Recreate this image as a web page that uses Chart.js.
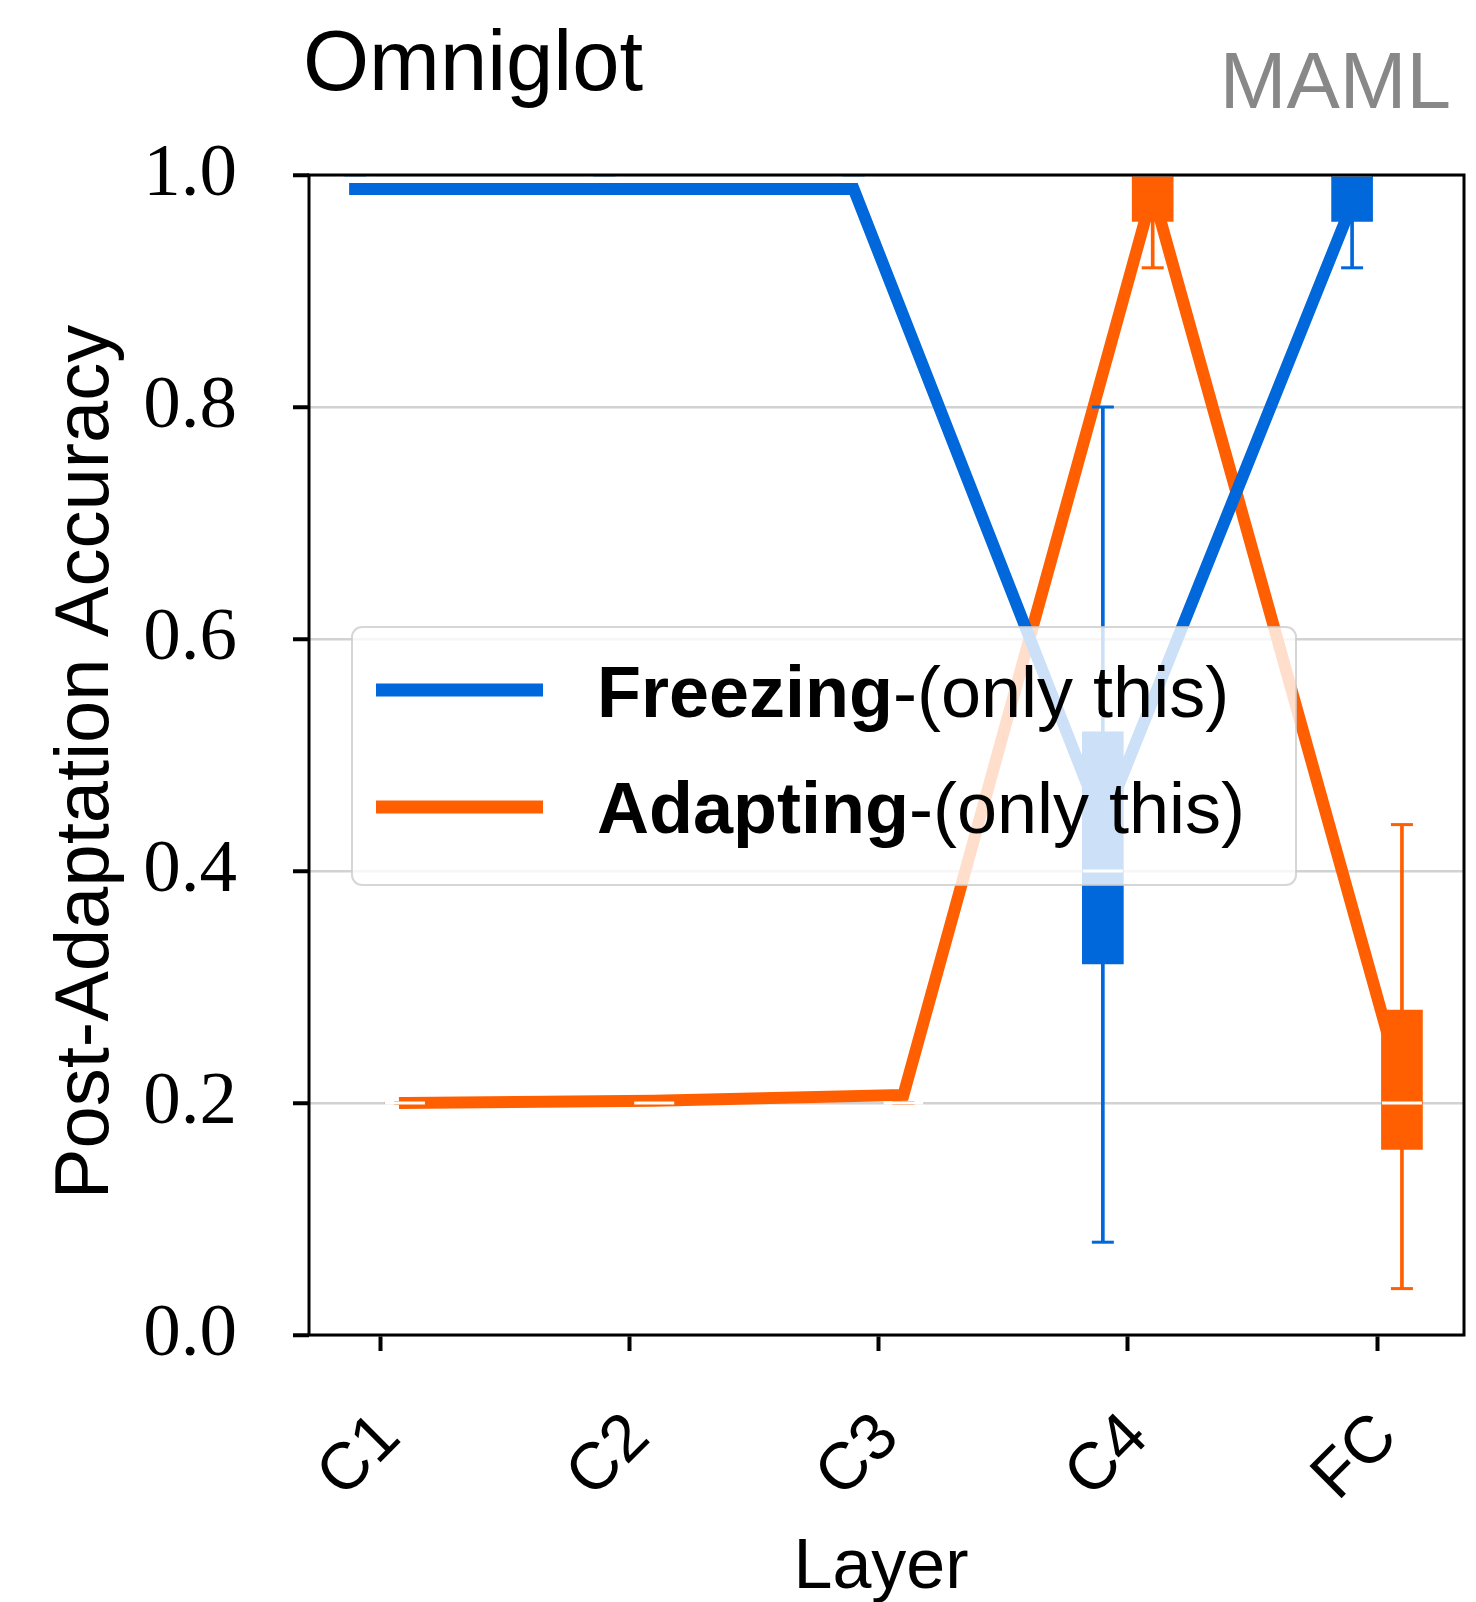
<!DOCTYPE html>
<html lang="en">
<head>
    <meta charset="UTF-8">
    <title>Omniglot MAML</title>
    <script src="https://cdn.jsdelivr.net/npm/chart.js"></script>
    <style>
        body { margin: 0; background: #fff; overflow: hidden; }
        #wrap { width: 1476px; height: 1602px; position: relative; }
    </style>
</head>
<body>
<div id="wrap"><canvas id="grafica"></canvas></div>

<script>
    // categorias (capas)
    const layers = ['C1', 'C2', 'C3', 'C4', 'FC'];
    const yTicks = [0, 0.2, 0.4, 0.6, 0.8, 1.0];

    // Freezing-(only this): media + cajas
    const freezeMean = [0.988, 0.988, 0.988, 0.44, 0.975];
    const freezeLo   = [1.0, 1.0, 1.0, 0.08, 0.92];
    const freezeQ1   = [1.0, 1.0, 1.0, 0.32, 0.96];
    const freezeMed  = [1.0, 1.0, 1.0, 0.40, 1.0];
    const freezeQ3   = [1.0, 1.0, 1.0, 0.52, 1.0];
    const freezeHi   = [1.0, 1.0, 1.0, 0.80, 1.0];

    // Adapting-(only this)
    const adaptMean = [0.200, 0.202, 0.207, 0.985, 0.215];
    const adaptLo   = [0.2, 0.2, 0.2, 0.92, 0.04];
    const adaptQ1   = [0.2, 0.2, 0.2, 0.96, 0.16];
    const adaptMed  = [0.2, 0.2, 0.2, 1.0, 0.20];
    const adaptQ3   = [0.2, 0.2, 0.2, 1.0, 0.28];
    const adaptHi   = [0.2, 0.2, 0.2, 1.0, 0.44];

    const BLUE = '#0068db';
    const ORANGE = '#ff5f00';
    const SANS = '"Liberation Sans", Arial, sans-serif';

    // cada serie va corrida 0.1 a izquierda / derecha
    const pts = (vals, off) => vals.map((v, i) => ({ x: i + off, y: v }));
    const rng = (a, b, off) => a.map((v, i) => ({ x: i + off, y: [v, b[i]] }));

    function serie(nombre, color, off, mean, lo, q1, med, q3, hi) {
        return [
            { type: 'line', label: nombre, data: pts(mean, off), borderColor: color, borderWidth: 12,
              borderCapStyle: 'square', borderJoinStyle: 'miter', pointRadius: 0, tension: 0, order: 10 },
            { type: 'bar', data: rng(lo, hi, off), backgroundColor: color, barThickness: 3,
              grouped: false, order: 8 },
            { type: 'bar', data: rng(q1, q3, off), backgroundColor: color, barThickness: 41,
              grouped: false, order: 6 },
            { type: 'line', data: pts(lo, off).concat(pts(hi, off)), showLine: false, pointStyle: 'line',
              pointRadius: 11, pointBorderWidth: 3, pointBorderColor: color, order: 4 },
            { type: 'line', data: pts(med, off), showLine: false, pointStyle: 'line',
              pointRadius: 20, pointBorderWidth: 3, pointBorderColor: '#ffffff', order: 2 }
        ];
    }

    const datasets = [
        ...serie('Freezing', BLUE, -0.1, freezeMean, freezeLo, freezeQ1, freezeMed, freezeQ3, freezeHi),
        ...serie('Adapting', ORANGE, 0.1, adaptMean, adaptLo, adaptQ1, adaptMed, adaptQ3, adaptHi)
    ];

    // el eje x llega hasta 12px del borde derecho
    const ajusteDerecha = {
        id: 'ajusteDerecha',
        afterLayout(chart) {
            const x = chart.scales.x;
            const r = chart.width - 12;
            chart.chartArea.right = r;
            chart.chartArea.width = r - chart.chartArea.left;
            x.right = r;
            x.width = r - x.left;
            x.configure();
        }
    };

    // marco, leyenda y textos
    const extras = {
        id: 'extras',
        afterDraw(chart) {
            const ctx = chart.ctx;
            const a = chart.chartArea;
            ctx.save();
            // marco negro
            ctx.strokeStyle = '#000';
            ctx.lineWidth = 3;
            ctx.strokeRect(a.left, a.top, a.right - a.left, a.bottom - a.top);

            // leyenda
            const lx = 352, ly = 627, lw = 944, lh = 258;
            ctx.beginPath();
            ctx.roundRect(lx, ly, lw, lh, 10);
            ctx.fillStyle = 'rgba(255,255,255,0.8)';
            ctx.fill();
            ctx.strokeStyle = 'rgba(204,204,204,0.8)';
            ctx.lineWidth = 2;
            ctx.stroke();
            const filas = [
                { c: BLUE, y: 690, base: 717, bold: 'Freezing' },
                { c: ORANGE, y: 807, base: 833, bold: 'Adapting' }
            ];
            filas.forEach(f => {
                ctx.strokeStyle = f.c;
                ctx.lineWidth = 13;
                ctx.lineCap = 'butt';
                ctx.beginPath();
                ctx.moveTo(376, f.y);
                ctx.lineTo(543, f.y);
                ctx.stroke();
                ctx.fillStyle = '#000';
                ctx.textAlign = 'left';
                ctx.textBaseline = 'alphabetic';
                ctx.font = 'bold 72px ' + SANS;
                ctx.fillText(f.bold, 597, f.base);
                const w = ctx.measureText(f.bold).width;
                ctx.font = '72px ' + SANS;
                ctx.fillText('-(only this)', 597 + w, f.base);
            });

            // titulos
            ctx.fillStyle = '#000';
            ctx.font = '85px ' + SANS;
            ctx.textAlign = 'left';
            ctx.fillText('Omniglot', 303, 90);
            ctx.fillStyle = '#888888';
            ctx.font = '80px ' + SANS;
            ctx.textAlign = 'right';
            ctx.fillText('MAML', 1451, 108);

            // titulos de ejes
            ctx.fillStyle = '#000';
            ctx.font = '70px ' + SANS;
            ctx.textAlign = 'center';
            ctx.fillText('Layer', 881, 1588);
            ctx.translate(108, 762);
            ctx.rotate(-Math.PI / 2);
            ctx.font = '76px ' + SANS;
            ctx.fillText('Post-Adaptation Accuracy', 0, 0);
            ctx.restore();
        }
    };

    const config = {
        type: 'line',
        data: { datasets },
        plugins: [ajusteDerecha, extras],
        options: {
            responsive: true,
            maintainAspectRatio: false,
            animation: false,
            layout: { padding: { top: 175, right: 12, left: 0, bottom: 0 } },
            plugins: { legend: { display: false }, tooltip: { enabled: false } },
            scales: {
                x: {
                    type: 'linear',
                    min: -0.285,
                    max: 4.349,
                    offset: false,
                    afterFit: s => { s.height = 267; s.paddingLeft = 0; s.paddingRight = 0; },
                    afterBuildTicks: s => { s.ticks = layers.map((_, i) => ({ value: i })); },
                    grid: { offset: false, drawOnChartArea: false, tickLength: 16, tickWidth: 4, tickColor: '#000' },
                    border: { display: false },
                    ticks: {
                        callback: v => layers[v],
                        minRotation: 45, maxRotation: 45,
                        padding: 48, labelOffset: 10,
                        color: '#000',
                        font: { family: SANS, size: 66 }
                    }
                },
                y: {
                    min: 0,
                    max: 1,
                    afterFit: s => { s.width = 309; s.paddingTop = 0; s.paddingBottom = 0; },
                    afterBuildTicks: s => { s.ticks = yTicks.map(v => ({ value: v })); },
                    grid: { color: '#d2d2d2', lineWidth: 2.5, tickLength: 16, tickWidth: 4, tickColor: '#000' },
                    border: { display: false },
                    ticks: {
                        callback: v => v.toFixed(1),
                        padding: 56,
                        color: '#000',
                        font: { family: '"Liberation Serif", "Times New Roman", serif', size: 75 }
                    }
                }
            }
        }
    };

    new Chart(document.getElementById('grafica'), config);
</script>
</body>
</html>
